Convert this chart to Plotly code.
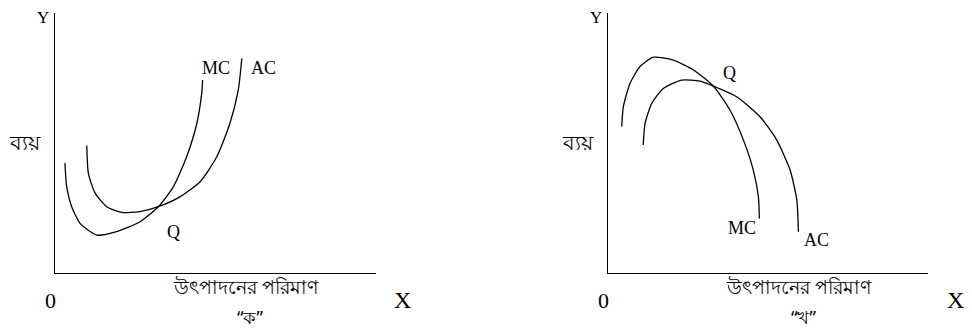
import plotly.graph_objs as go
from plotly.subplots import make_subplots

# panel "ক" : U-shaped cost curves
mc_a_x = [0.31, 0.36, 0.52, 0.78, 1.30, 1.92, 2.65, 3.22, 3.69, 4.10, 4.42, 4.57, 4.60]
mc_a_y = [4.23, 3.36, 2.55, 1.91, 1.46, 1.59, 1.97, 2.55, 3.32, 4.47, 5.76, 6.91, 7.42]
ac_a_x = [0.99, 1.04, 1.25, 1.61, 2.08, 2.65, 3.22, 3.89, 4.52, 5.04, 5.45, 5.71, 5.82]
ac_a_y = [4.90, 3.83, 3.07, 2.55, 2.33, 2.36, 2.55, 2.93, 3.51, 4.47, 5.76, 7.04, 8.26]

# panel "খ" : inverted cost curves
mc_b_x = [0.43, 0.48, 0.69, 1.00, 1.42, 2.04, 2.67, 3.29, 3.81, 4.23, 4.54, 4.70, 4.73]
mc_b_y = [5.63, 6.40, 7.30, 7.94, 8.30, 8.19, 7.81, 7.19, 6.27, 5.12, 3.96, 2.93, 2.10]
ac_b_x = [1.10, 1.16, 1.37, 1.73, 2.30, 2.875, 3.29, 4.02, 4.75, 5.27, 5.69, 5.90, 5.95]
ac_b_y = [4.92, 5.76, 6.53, 7.10, 7.42, 7.38, 7.19, 6.78, 6.01, 5.12, 3.96, 2.81, 1.59]

ylabel = "ব্যয়"
xlabel = "উৎপাদনের পরিমাণ"
panel_names = ["“ক”", "“খ”"]

serif = "Liberation Serif, Times New Roman, serif"
beng = "Noto Sans, sans-serif"

# the page puts the plot 8px in from the top-left corner
W, H, PAD = 964, 327, 8

fig = make_subplots(rows=1, cols=2)

line = dict(color="black", width=1.3, shape="spline", smoothing=0.6)
for xs, ys, col in [(mc_a_x, mc_a_y, 1), (ac_a_x, ac_a_y, 1),
                    (mc_b_x, mc_b_y, 2), (ac_b_x, ac_b_y, 2)]:
    fig.add_trace(go.Scatter(x=xs, y=ys, mode="lines", line=line,
                             showlegend=False, hoverinfo="skip"), row=1, col=col)

def px_x(px):
    return (px - PAD) / W

def px_y(py):
    return 1 - (py - PAD) / H

ydom = [px_y(273), px_y(13)]
axis = dict(range=[0, 10], showline=True, linecolor="black", linewidth=1.3,
            showgrid=False, zeroline=False, showticklabels=False, ticks="")
fig.update_layout(
    xaxis=dict(axis, domain=[px_x(55), px_x(376)]),
    yaxis=dict(axis, domain=ydom),
    xaxis2=dict(axis, domain=[px_x(608), px_x(928)]),
    yaxis2=dict(axis, domain=ydom),
    width=W, height=H,
    margin=dict(l=0, r=0, t=0, b=0),
    plot_bgcolor="white", paper_bgcolor="white",
)

# curve labels (data coords)
labels = [("x", "y", 5.02, 7.88, "MC"), ("x", "y", 6.51, 7.88, "AC"), ("x", "y", 3.68, 1.58, "Q"),
          ("x2", "y2", 4.19, 1.73, "MC"), ("x2", "y2", 6.53, 1.27, "AC"), ("x2", "y2", 3.81, 7.69, "Q")]
for xr, yr, x, y, t in labels:
    fig.add_annotation(x=x, y=y, xref=xr, yref=yr, text=t, showarrow=False,
                       xanchor="center", yanchor="middle",
                       font=dict(family=serif, size=18, color="black"))

# axis captions (paper coords, px based)
def note(px, py, text, size, family=serif):
    fig.add_annotation(x=px_x(px), y=px_y(py), xref="paper", yref="paper",
                       text=text, showarrow=False, xanchor="center", yanchor="middle",
                       borderpad=0,
                       font=dict(family=family, size=size, color="black"))

for off, name in [(0, panel_names[0]), (553, panel_names[1])]:
    note(43 + off, 18, "Y", 17)
    note(50 + off, 300, "0", 22)
    note(402 + off, 300, "X", 24)
    note(25 + off, 142, ylabel, 21, beng)
    note(246 + off, 287, xlabel, 19, beng)
    note(250 + off, 317, name, 18, beng)

fig.write_html("out.html")
